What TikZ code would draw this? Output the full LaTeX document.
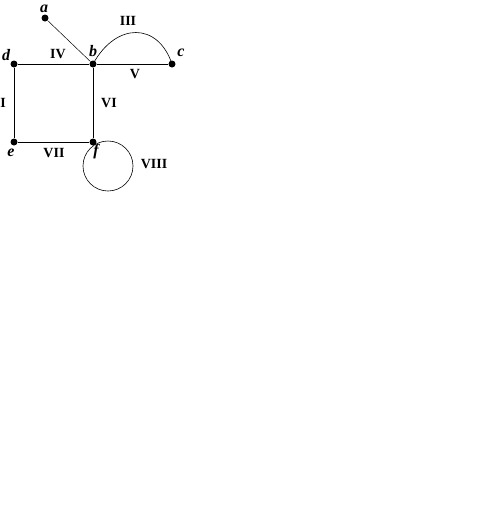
\documentclass[tikz,border=0pt]{standalone}
\usepackage{fontspec}
\setmainfont{Liberation Serif}
\usepackage{tikz}
\usetikzlibrary{positioning, calc}

\begin{document}
\begin{tikzpicture}[
        x=1pt, y=-1pt,
        vertex/.style={circle, fill=black, inner sep=0pt, minimum size=7pt},
        vlabel/.style={font=\fontsize{16}{18}\selectfont\bfseries\itshape, inner sep=0pt},
        elabel/.style={font=\fontsize{14}{16}\selectfont\bfseries, inner sep=0pt},
        edge/.style={line width=0.9pt}
    ]
    \useasboundingbox (0,0) rectangle (489,507);

    % --- Vertices ---
    \node[vertex] (a) at (45, 18) {};
    \node[vertex] (b) at (93, 64) {};
    \node[vertex] (c) at (172, 64) {};
    \node[vertex] (d) at (14, 64) {};
    \node[vertex] (e) at (14, 142) {};
    \node[vertex] (f) at (93, 142) {};

    % --- Vertex labels ---
    \node[vlabel] at (44, 9) {a};
    \node[vlabel] at (93, 51) {b};
    \node[vlabel] at (181, 53) {c};
    \node[vlabel] at (6, 55) {d};
    \node[vlabel] at (11, 153) {e};
    \node[vlabel] at (96, 152) {f};

    % --- Edges ---
    \draw[line width=0.5pt] (a) -- (b);
    \draw[edge] (d) -- (b);
    \draw[edge] (b) -- (c);
    \draw[edge] (d) -- (e);
    \draw[edge] (b) -- (f);
    \draw[edge] (e) -- (f);
    \draw[line width=0.6pt] (b.center) .. controls (116, 22) and (158, 22) .. (c.center);
    \draw[line width=0.6pt] (f.center) ++(15, 24) circle[radius=25]; % loop at f

    % --- Edge labels ---
    \node[elabel] at (128, 21) {III};
    \node[elabel] at (58, 54) {IV};
    \node[elabel] at (135, 74) {V};
    \node[elabel] at (109, 103) {VI};
    \node[elabel] at (54, 153) {VII};
    \node[elabel] at (3, 103) {I};
    \node[elabel] at (154, 164) {VIII};

\end{tikzpicture}
\end{document}
